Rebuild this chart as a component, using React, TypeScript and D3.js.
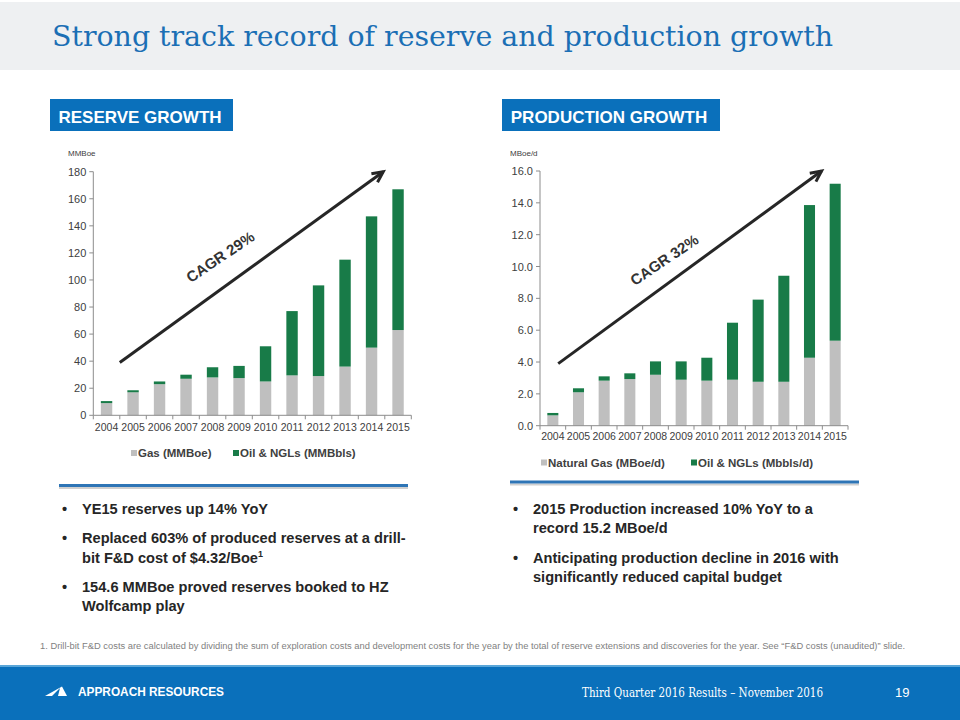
import React from "react";
import * as d3 from "d3";

const years = ["2004","2005","2006","2007","2008","2009","2010","2011","2012","2013","2014","2015"];
// Reserves (MMBoe)
const reserveGas = [9, 17, 23, 27, 28, 27.5, 25, 29.5, 29, 36, 50, 63];
const reserveOil = [1.5, 1.5, 2, 3, 7.5, 9, 26, 47.5, 67, 79, 97, 104];
// Production (MBoe/d)
const prodGas = [0.65, 2.1, 2.83, 2.93, 3.2, 2.89, 2.83, 2.89, 2.76, 2.76, 4.27, 5.34];
const prodOil = [0.15, 0.25, 0.27, 0.36, 0.84, 1.15, 1.44, 3.58, 5.16, 6.66, 9.59, 9.86];
const reserveTicks = [0, 20, 40, 60, 80, 100, 120, 140, 160, 180];
const prodTicks = [0, 2, 4, 6, 8, 10, 12, 14, 16];
const reserveLegend = ["Gas (MMBoe)", "Oil & NGLs (MMBbls)"];
const prodLegend = ["Natural Gas (MBoe/d)", "Oil & NGLs (Mbbls/d)"];
// arrow annotations: [band index start, value start, band index end, value end]
const reserveArrow = [1.0, 39, 10.94, 180];
const prodArrow = [0.71, 3.9, 10.97, 16];

const GRAY = "#bfbfbf";
const GREEN = "#187b48";
const BLUE = "#0a70bb";
const TXT = "#404040";

function Chart({ x0, x1, y0, y1, max, ticks, gas, oil, fmt, unit, legend, legendY, legendPos, arrow, cagr, cagrPos, yearY }: any) {
  const x = d3.scaleBand().domain(years).range([x0, x1]).paddingInner(0.57).paddingOuter(0.285);
  const xi = d3.scaleLinear().domain([0, years.length]).range([x0, x1]);
  const y = d3.scaleLinear().domain([0, max]).range([y0, y1]);
  const step = x.step();
  const ax = xi(arrow[0]), ay = y(arrow[1]), bx = xi(arrow[2]), by = y(arrow[3]);
  const ang = Math.atan2(by - ay, bx - ax);
  const hl = 12;
  const h1 = [bx - hl * Math.cos(ang - 0.45), by - hl * Math.sin(ang - 0.45)];
  const h2 = [bx - hl * Math.cos(ang + 0.45), by - hl * Math.sin(ang + 0.45)];
  return (
    <g fontFamily="'Liberation Sans', Arial, sans-serif">
      <text x={unit.x} y={unit.y} fontSize={8} fill={TXT}>{unit.t}</text>
      {years.map((yr, i) => (
        <g key={yr}>
          <rect x={x(yr)} width={x.bandwidth()} y={y(gas[i])} height={y0 - y(gas[i])} fill={GRAY} />
          <rect x={x(yr)} width={x.bandwidth()} y={y(gas[i] + oil[i])} height={y(gas[i]) - y(gas[i] + oil[i])} fill={GREEN} />
          <text x={(x(yr) as number) + x.bandwidth() / 2} y={yearY} fontSize={10.5} textAnchor="middle" fill={TXT}>{yr}</text>
        </g>
      ))}
      <line x1={x0} x2={x0} y1={y1} y2={y0} stroke="#8c8c8c" />
      <line x1={x0} x2={x1} y1={y0} y2={y0} stroke="#8c8c8c" />
      {d3.range(years.length + 1).map(i => (
        <line key={i} x1={x0 + i * step} x2={x0 + i * step} y1={y0} y2={y0 + 4} stroke="#8c8c8c" />
      ))}
      {ticks.map((t: number) => (
        <g key={t}>
          <line x1={x0 - 4} x2={x0} y1={y(t)} y2={y(t)} stroke="#8c8c8c" />
          <text x={x0 - 7} y={y(t) + 4} fontSize={11} textAnchor="end" fill={TXT}>{fmt(t)}</text>
        </g>
      ))}
      <line x1={ax} y1={ay} x2={bx} y2={by} stroke="#262626" strokeWidth={3} />
      <path d={`M${h1[0]},${h1[1]} L${bx},${by} L${h2[0]},${h2[1]}`} fill="none" stroke="#262626" strokeWidth={3} strokeLinejoin="miter" />
      <text x={cagrPos[0]} y={cagrPos[1]} fontSize={15} fontWeight="bold" fill="#333" textAnchor="middle" dominantBaseline="middle" transform={`rotate(-34 ${cagrPos[0]} ${cagrPos[1]})`}>{cagr}</text>
      {legend.map((l: string, i: number) => (
        <g key={l}>
          <rect x={legendPos[i] - 7} y={legendY - 7} width={6} height={6} fill={i === 0 ? GRAY : GREEN} />
          <text x={legendPos[i]} y={legendY} fontSize={11.5} fontWeight="bold" fill={TXT}>{l}</text>
        </g>
      ))}
    </g>
  );
}

export default function App() {
  const bulletFont = "'Liberation Sans', Arial, sans-serif";
  return (
    <svg width={960} height={720} style={{ position: "absolute", left: 0, top: 0, display: "block" }} xmlns="http://www.w3.org/2000/svg">
      <rect x={0} y={0} width={960} height={720} fill="#ffffff" />
      <rect x={0} y={2} width={960} height={68} fill="#eef0f2" />
      <text x={52} y={46} fontFamily="'DejaVu Serif Condensed', 'DejaVu Serif', serif" fontStretch="condensed" fontSize={28} fill="#1b6fb5" textLength={781} lengthAdjust="spacingAndGlyphs">Strong track record of reserve and production growth</text>

      <rect x={50} y={99} width={183} height={32} fill={BLUE} />
      <text x={140} y={123} fontFamily={bulletFont} fontSize={17} fontWeight="bold" fill="#fff" textAnchor="middle">RESERVE GROWTH</text>
      <rect x={502} y={99} width={218} height={32} fill={BLUE} />
      <text x={609} y={123} fontFamily={bulletFont} fontSize={17} fontWeight="bold" fill="#fff" textAnchor="middle">PRODUCTION GROWTH</text>

      <Chart x0={93.3} x1={411.3} y0={415.3} y1={171.7} max={180} ticks={reserveTicks} gas={reserveGas} oil={reserveOil}
        fmt={(t: number) => String(t)} unit={{ x: 68, y: 155.5, t: "MMBoe" }} legend={reserveLegend} legendY={457}
        legendPos={[138, 240]} arrow={reserveArrow} cagr="CAGR 29%" cagrPos={[221, 258]} yearY={431} />
      <Chart x0={540} x1={848} y0={425.7} y1={171} max={16} ticks={prodTicks} gas={prodGas} oil={prodOil}
        fmt={(t: number) => t.toFixed(1)} unit={{ x: 510, y: 155.5, t: "MBoe/d" }} legend={prodLegend} legendY={466.5}
        legendPos={[548, 698]} arrow={prodArrow} cagr="CAGR 32%" cagrPos={[665, 261]} yearY={440} />

      <line x1={59} x2={408} y1={488} y2={488} stroke="#d0d0d0" strokeWidth={2} />
      <line x1={59} x2={408} y1={485.5} y2={485.5} stroke="#2e75b6" strokeWidth={3} />
      <line x1={510} x2={859} y1={484.5} y2={484.5} stroke="#d0d0d0" strokeWidth={2} />
      <line x1={510} x2={859} y1={482} y2={482} stroke="#2e75b6" strokeWidth={3} />

      <g fontFamily={bulletFont} fontSize={14.6} fontWeight="bold" fill="#262626">
        <text x={62} y={514}>•</text>
        <text x={82} y={514}>YE15 reserves up 14% YoY</text>
        <text x={62} y={543}>•</text>
        <text x={82} y={543}>Replaced 603% of produced reserves at a drill-</text>
        <text x={82} y={563}>bit F&amp;D cost of $4.32/Boe<tspan fontSize={9} dy={-6}>1</tspan></text>
        <text x={62} y={592}>•</text>
        <text x={82} y={592}>154.6 MMBoe proved reserves booked to HZ</text>
        <text x={82} y={611}>Wolfcamp play</text>

        <text x={513} y={514}>•</text>
        <text x={533} y={514}>2015 Production increased 10% YoY to a</text>
        <text x={533} y={533}>record 15.2 MBoe/d</text>
        <text x={513} y={563}>•</text>
        <text x={533} y={563}>Anticipating production decline in 2016 with</text>
        <text x={533} y={582}>significantly reduced capital budget</text>
      </g>

      <text x={40} y={648.5} fontFamily={bulletFont} fontSize={8.5} fill="#7f7f7f" textLength={865} lengthAdjust="spacingAndGlyphs">1. Drill-bit F&amp;D costs are calculated by dividing the sum of exploration costs and development costs for the year by the total of reserve extensions and discoveries for the year. See “F&amp;D costs (unaudited)” slide.</text>

      <rect x={0} y={665} width={960} height={2} fill="#5aa6d8" />
      <rect x={0} y={667} width={960} height={53} fill={BLUE} />
      <path d="M45,696 L62,686.5 L67,696 Z" fill="#fff" />
      <path d="M52,696 L60,688 L58,696 Z" fill={BLUE} />
      <text x={78} y={696} fontFamily={bulletFont} fontSize={12} fontWeight="bold" fill="#fff" textLength={146} lengthAdjust="spacingAndGlyphs">APPROACH RESOURCES</text>
      <text x={582} y={696.5} fontFamily="'DejaVu Serif', serif" fontSize={12.5} fill="#fff" textLength={241} lengthAdjust="spacingAndGlyphs">Third Quarter 2016 Results – November 2016</text>
      <text x={895} y={696.5} fontFamily={bulletFont} fontSize={13} fill="#fff">19</text>
    </svg>
  );
}
